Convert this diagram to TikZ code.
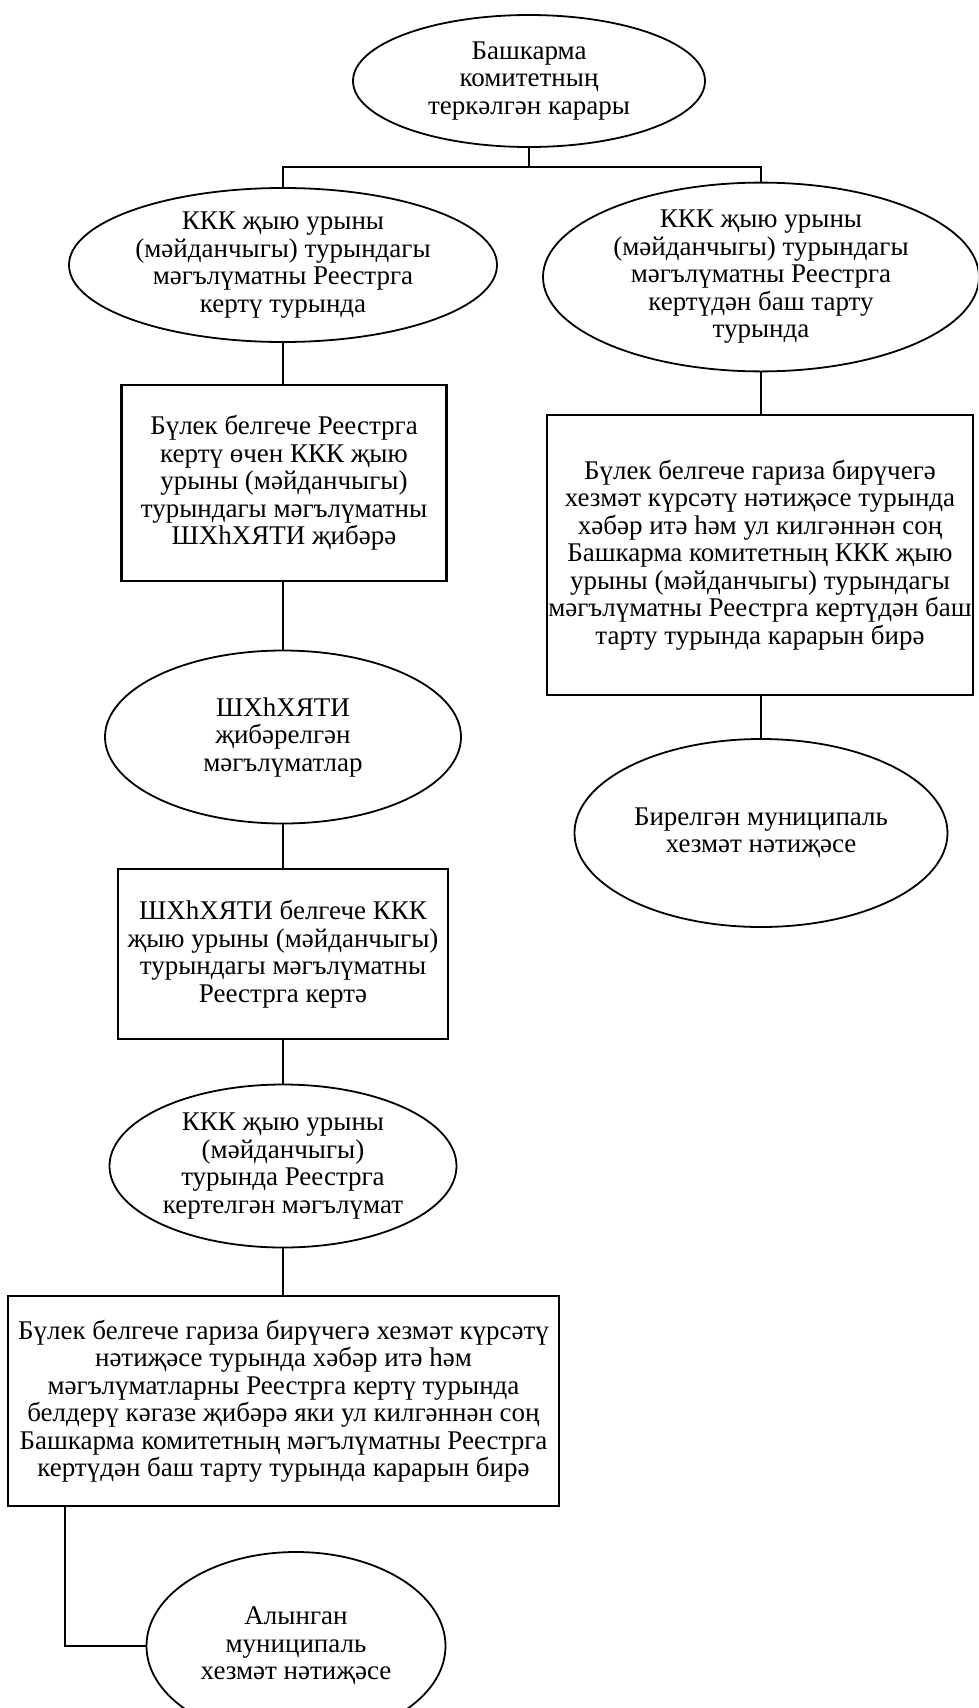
\documentclass[tikz,border=0pt]{standalone}
\usepackage{fontspec}
\setmainfont{Liberation Serif}
\usetikzlibrary{shapes.geometric}
\tikzset{
  oval/.style={draw, ellipse, line width=1.8pt, inner sep=0pt, align=center},
  stepbox/.style={draw, rectangle, line width=2.2pt, inner sep=0pt, align=center},
  conn/.style={line width=1.2pt},
}
\begin{document}
\begin{tikzpicture}[x=1pt,y=-1pt,font=\fontsize{27}{27.5}\selectfont]
\path[use as bounding box, clip] (0,0) rectangle (978,1708);
\fill[white] (0,0) rectangle (978,1708);

\node[oval, minimum width=352pt, minimum height=132pt] (top) at (529,81)
  {Башкарма\\комитетның\\теркәлгән карары};

\node[oval, minimum width=428pt, minimum height=154pt] (e1) at (283,265)
  {ККК җыю урыны\\(мәйданчыгы) турындагы\\мәгълүматны Реестрга\\кертү турында};

\node[oval, minimum width=436pt, minimum height=184pt] (e1r) at (761,277)
  {ККК җыю урыны\\(мәйданчыгы) турындагы\\мәгълүматны Реестрга\\кертүдән баш тарту\\турында};

\node[stepbox, minimum width=325pt, minimum height=196pt] (r1) at (284,483)
  {Бүлек белгече Реестрга\\кертү өчен ККК җыю\\урыны (мәйданчыгы)\\турындагы мәгълүматны\\ШХһХЯТИ җибәрә};

\node[stepbox, minimum width=426pt, minimum height=280pt] (rr) at (760,555)
  {Бүлек белгече гариза бирүчегә\\хезмәт күрсәтү нәтиҗәсе турында\\хәбәр итә һәм ул килгәннән соң\\Башкарма комитетның ККК җыю\\урыны (мәйданчыгы) турындагы\\мәгълүматны Реестрга кертүдән баш\\тарту турында карарын бирә};

\node[oval, minimum width=373pt, minimum height=188pt] (er2) at (761,833)
  {Бирелгән муниципаль\\хезмәт нәтиҗәсе};

\node[oval, minimum width=356pt, minimum height=173pt] (e2) at (283,737)
  {ШХһХЯТИ\\җибәрелгән\\мәгълүматлар};

\node[stepbox, minimum width=330pt, minimum height=170pt] (r2) at (283,954)
  {ШХһХЯТИ белгече ККК\\җыю урыны (мәйданчыгы)\\турындагы мәгълүматны\\Реестрга кертә};

\node[oval, minimum width=347pt, minimum height=163pt] (e3) at (283,1166)
  {ККК җыю урыны\\(мәйданчыгы)\\турында Реестрга\\кертелгән мәгълүмат};

\node[stepbox, minimum width=551pt, minimum height=210pt] (r3) at (283.5,1401)
  {Бүлек белгече гариза бирүчегә хезмәт күрсәтү\\нәтиҗәсе турында хәбәр итә һәм\\мәгълүматларны Реестрга кертү турында\\белдерү кәгазе җибәрә яки ул килгәннән соң\\Башкарма комитетның мәгълүматны Реестрга\\кертүдән баш тарту турында карарын бирә};

\node[oval, minimum width=299pt, minimum height=188pt] (e4) at (296,1646)
  {Алынган\\муниципаль\\хезмәт нәтиҗәсе};

\coordinate (busL) at (283,167);
\coordinate (busR) at (761,167);
\coordinate (bend) at (65,1646);

\draw[conn] (top.south) -- (top.south |- busL);
\draw[conn] (e1.north) -- (busL) -- (busR) -- (e1r.north);
\draw[conn] (e1.south) -- (e1.south |- r1.north);
\draw[conn] (r1.south -| e2.north) -- (e2.north);
\draw[conn] (e2.south) -- (e2.south |- r2.north);
\draw[conn] (r2.south) -- (e3.north);
\draw[conn] (e3.south) -- (e3.south |- r3.north);
\draw[conn] (r3.south -| bend) -- (bend) -- (e4.west);
\draw[conn] (e1r.south) -- (e1r.south |- rr.north);
\draw[conn] (rr.south -| er2.north) -- (er2.north);
\end{tikzpicture}
\end{document}
